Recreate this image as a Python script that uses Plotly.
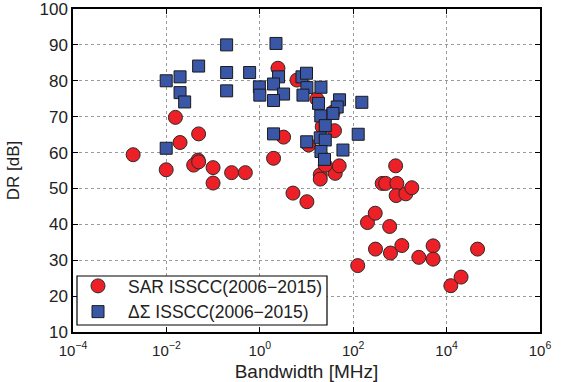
import plotly.graph_objects as go

# SAR ISSCC(2006-2015): bandwidth [MHz], DR [dB]
sar_bw = [0.0156, 0.049, 0.0196, 0.00194, 0.0099, 0.0477, 0.0384, 0.049, 0.0998, 0.0998,
          0.249, 0.49, 1.97, 2.45, 6.25, 3.23, 5.13, 10.2, 11.1, 16.7,
          37.3, 21.7, 39.8, 19.7, 19.7, 41.2, 50.2, 25.2, 125, 202,
          296, 300, 417, 495, 604, 628, 811, 861, 832, 1340,
          1800, 1100, 2540, 5140, 5140, 12300, 20400, 46000]
sar_dr = [69.8, 65.2, 62.8, 59.4, 55.2, 57.9, 56.5, 57.4, 55.8, 51.5,
          54.4, 54.4, 58.4, 83.5, 80.2, 64.3, 48.7, 46.3, 62.1, 74.9,
          71.3, 67.2, 66.1, 53.8, 52.6, 54.2, 56.3, 56.5, 28.5, 40.5,
          43.1, 33.1, 51.4, 51.4, 39.4, 32.0, 56.3, 51.4, 48.0, 48.5,
          50.2, 34.1, 30.8, 34.0, 30.3, 22.9, 25.3, 33.1]

# Delta-Sigma ISSCC(2006-2015)
ds_bw = [0.195, 0.049, 0.0099, 0.0196, 0.195, 0.605, 0.0196, 0.0246, 0.195, 0.0099,
         0.98, 1.0, 2.22, 2.52, 1.97, 3.23, 1.97, 1.97, 8.0, 10.0,
         10.2, 8.4, 10.1, 20.4, 18.1, 51, 45.5, 36.8, 153, 20.2,
         25.2, 19.7, 25.2, 128, 60.3, 20.4, 24.3]
ds_dr = [90.0, 84.1, 80.0, 81.1, 82.3, 82.3, 76.7, 74.1, 77.2, 61.2,
         78.3, 76.0, 90.4, 81.1, 79.1, 76.3, 74.5, 65.2, 81.1, 82.1,
         78.1, 76.0, 63.0, 78.2, 73.7, 74.7, 72.7, 70.9, 74.0, 70.2,
         67.5, 64.1, 63.5, 65.1, 60.7, 60.3, 58.1]

x_tickvals = [1e-4, 1e-2, 1e0, 1e2, 1e4, 1e6]
x_ticktext = ["10<sup>−4</sup>", "10<sup>−2</sup>", "10<sup>0</sup>",
              "10<sup>2</sup>", "10<sup>4</sup>", "10<sup>6</sup>"]
y_tickvals = list(range(10, 101, 10))

FONT = "Liberation Sans"
W, H = 565, 382
ML, MR, MT, MB = 73, 25, 9, 50
PW, PH = W - ML - MR, H - MT - MB


def px_x(p):
    return (p - ML) / PW


def px_y(p):
    return (H - MB - p) / PH


fig = go.Figure()
fig.add_trace(go.Scatter(
    x=sar_bw, y=sar_dr, mode="markers", name="SAR ISSCC(2006−2015)",
    marker=dict(symbol="circle", size=14, color="#EC2026",
                line=dict(color="#2a2a2a", width=1))))
fig.add_trace(go.Scatter(
    x=ds_bw, y=ds_dr, mode="markers", name="ΔΣ ISSCC(2006−2015)",
    marker=dict(symbol="square", size=12, color="#3A57A7",
                line=dict(color="#1a1a1a", width=1))))

axis_common = dict(showline=True, linecolor="black", linewidth=1.5, mirror="ticks",
                   ticks="inside", ticklen=5, tickcolor="black",
                   showgrid=True, gridcolor="#9a9a9a", griddash="dot", gridwidth=1,
                   zeroline=False, automargin=False, ticklabeloverflow="allow")

fig.update_xaxes(type="log", range=[-4, 6], tickvals=x_tickvals, ticktext=x_ticktext,
                 tickfont=dict(family=FONT, size=15, color="#222"),
                 ticklabelstandoff=4,
                 title=dict(text="Bandwidth [MHz]", font=dict(family=FONT, size=19, color="#222"),
                            standoff=7),
                 **axis_common)
fig.update_yaxes(range=[10, 100], tickvals=y_tickvals,
                 tickfont=dict(family=FONT, size=17, color="#222"),
                 title=dict(text="DR [dB]", font=dict(family=FONT, size=17, color="#222"),
                            standoff=16),
                 **axis_common)

# legend frame (drawn as a shape so its size matches the reference)
fig.add_shape(type="rect", xref="paper", yref="paper",
              x0=px_x(77), x1=px_x(327), y0=px_y(325), y1=px_y(276),
              fillcolor="white", line=dict(color="black", width=1.2), layer="above")

fig.update_layout(
    width=W, height=H,
    margin=dict(l=ML, r=MR, t=MT, b=MB),
    paper_bgcolor="white", plot_bgcolor="white",
    showlegend=True,
    legend=dict(x=px_x(68), y=px_y(268), xanchor="left", yanchor="top",
                bgcolor="rgba(0,0,0,0)", borderwidth=0,
                font=dict(family=FONT, size=17.5, color="#222"),
                itemsizing="trace", itemwidth=50),
    font=dict(family=FONT),
)

fig.write_html("out.html",
               config={"displayModeBar": False},
               post_script="document.body.style.margin='0px';"
                           "document.body.style.overflow='hidden';")
